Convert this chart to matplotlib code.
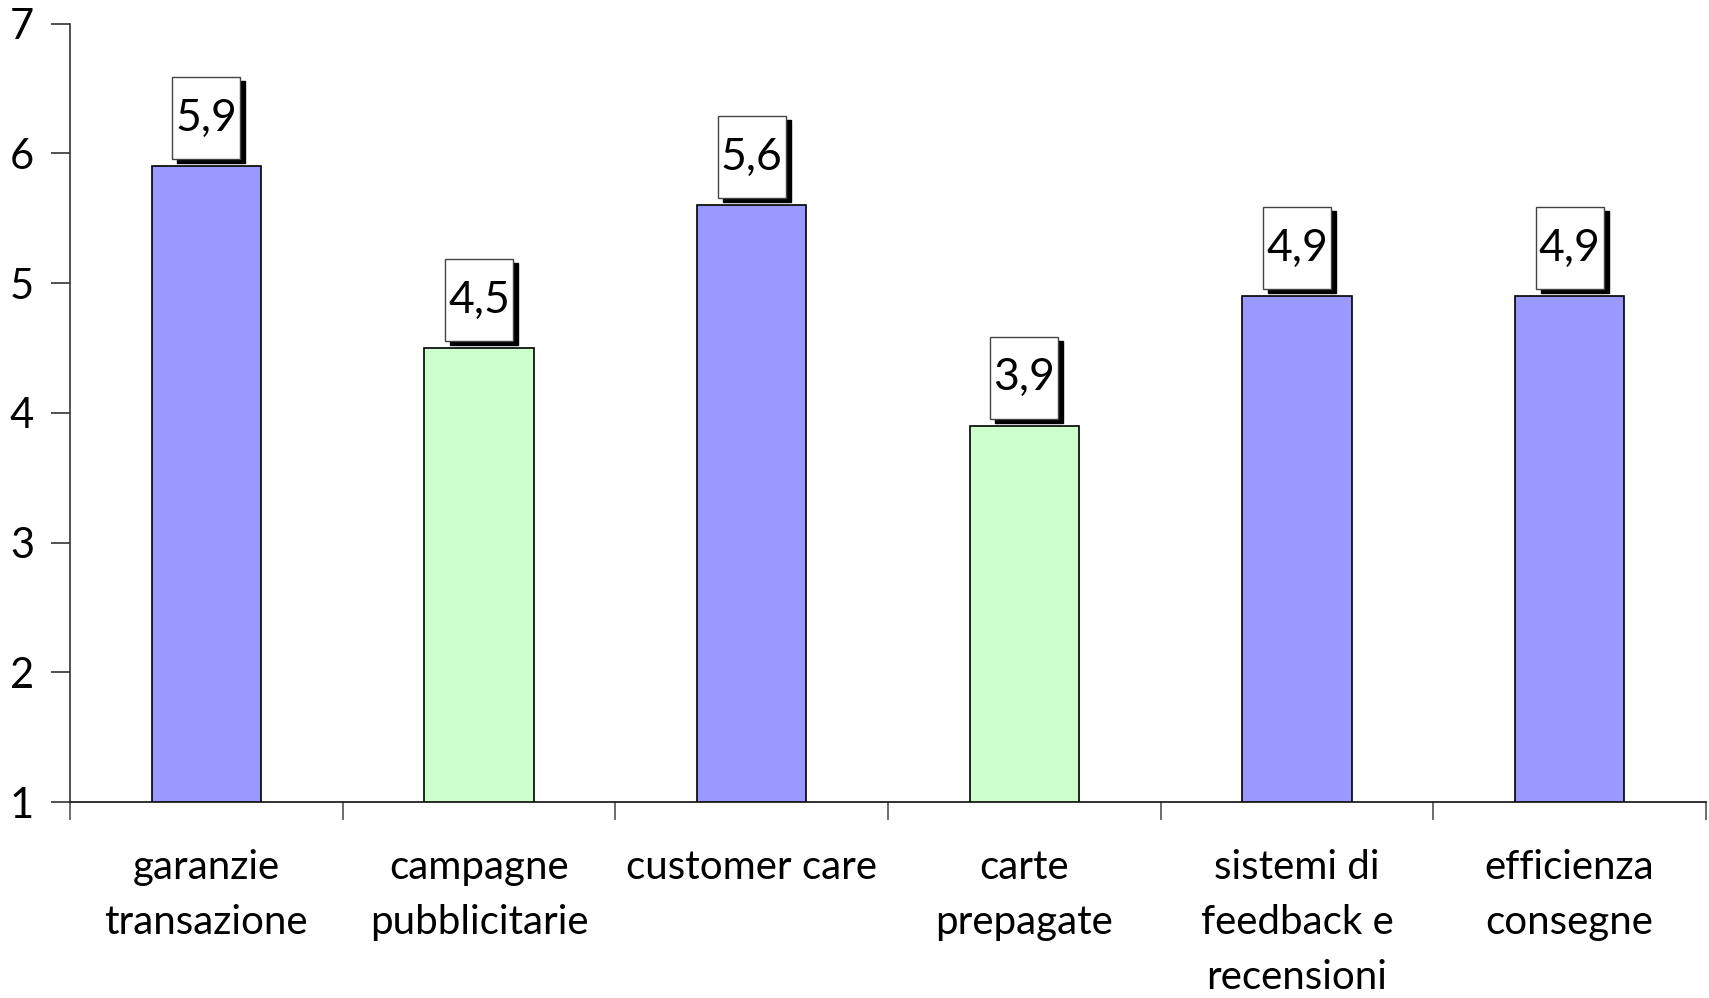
import matplotlib
matplotlib.use("Agg")
import matplotlib.pyplot as plt
from matplotlib.patches import Rectangle
from matplotlib.transforms import ScaledTranslation

categories = ["garanzie\ntransazione", "campagne\npubblicitarie", "customer care",
              "carte\nprepagate", "sistemi di\nfeedback e\nrecensioni", "efficienza\nconsegne"]
values = [5.9, 4.5, 5.6, 3.9, 4.9, 4.9]
colors = ["#9999FF", "#CCFFCC", "#9999FF", "#CCFFCC", "#9999FF", "#9999FF"]
yticks = [1, 2, 3, 4, 5, 6, 7]

plt.rcParams["font.family"] = ["Lato", "DejaVu Sans"]

W, H, DPI = 1709, 998, 100
fig = plt.figure(figsize=(W / DPI, H / DPI), dpi=DPI)
ax = fig.add_axes([70 / W, (H - 802) / H, (1706 - 70) / W, (802 - 23.7) / H])

base = 1
x = list(range(len(categories)))
ax.bar(x, [v - base for v in values], bottom=base, width=0.4, color=colors,
       edgecolor="black", linewidth=1.2, zorder=3)

ax.set_xlim(-0.5, len(categories) - 0.5)
ax.set_ylim(1, 7)
ax.set_yticks(yticks)
ax.set_yticklabels([str(t) for t in yticks], fontsize=30)

# category labels centred between boundary ticks
ax.set_xticks([i - 0.5 for i in range(len(categories) + 1)])
ax.set_xticklabels([])
ax.tick_params(axis="x", direction="out", length=13, width=1.2, color="#555555")
ax.tick_params(axis="y", direction="out", length=14, width=1.2, pad=12, color="#333333")
for i, c in enumerate(categories):
    ax.text(i, -0.06, c, transform=ax.get_xaxis_transform(), ha="center", va="top",
            fontsize=29, linespacing=1.6)

for s in ["top", "right"]:
    ax.spines[s].set_visible(False)
ax.spines["left"].set_color("#333333")
ax.spines["bottom"].set_color("#222222")
ax.spines["left"].set_linewidth(1.2)
ax.spines["bottom"].set_linewidth(1.3)

# value boxes with drop shadow, sized in pixels above each bar top
bw, y0, y1, sh = 34, 7, 89, 5
for i, v in enumerate(values):
    tr = fig.dpi_scale_trans + ScaledTranslation(i, v, ax.transData)
    shadow = Rectangle(((-bw + sh) / DPI, (y0 - 4) / DPI), 2 * bw / DPI, (y1 - y0) / DPI,
                       transform=tr, facecolor="black", edgecolor="black", zorder=4,
                       clip_on=False)
    box = Rectangle((-bw / DPI, y0 / DPI), 2 * bw / DPI, (y1 - y0) / DPI,
                    transform=tr, facecolor="white", edgecolor="#444444", linewidth=1,
                    zorder=5, clip_on=False)
    ax.add_patch(shadow)
    ax.add_patch(box)
    ax.text(0, (y0 + y1) / 2 / DPI, f"{v:.1f}".replace(".", ","), transform=tr,
            ha="center", va="center", fontsize=32, zorder=6)

fig.savefig("out.png", dpi=DPI)
